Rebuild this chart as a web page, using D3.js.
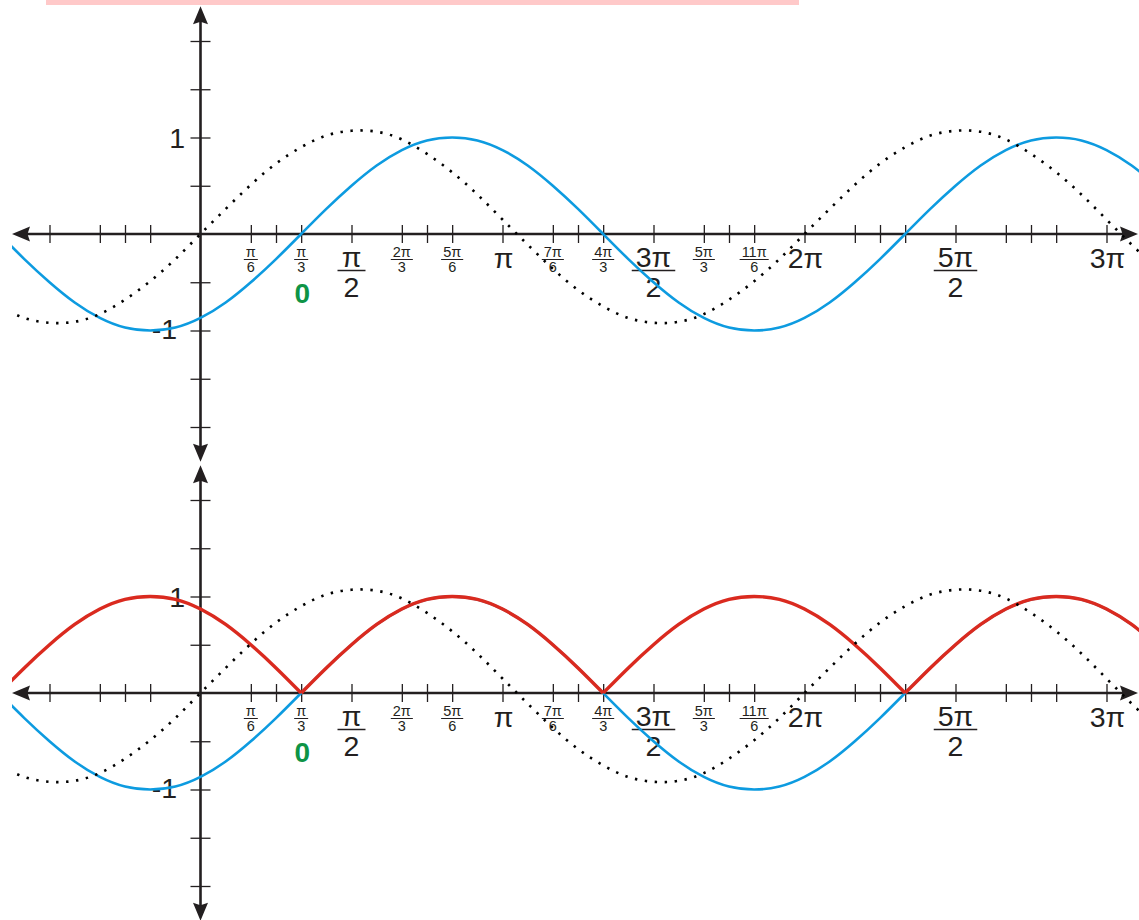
<!DOCTYPE html>
<html>
<head>
<meta charset="utf-8">
<script src="https://cdn.jsdelivr.net/npm/d3@7"></script>
<style>
  body { margin: 0; background: #fff; }
  svg { display: block; font-family: "Liberation Sans", Arial, sans-serif; }
</style>
</head>
<body>
<script>
// x positions are counted in twelfths of pi
const sampleTwelfths = d3.range(-8, 39);

// blue curve, read every pi/12 (crosses zero going up at pi/3)
const blueValues = [
  0, -0.26, -0.5, -0.71, -0.87, -0.97, -1, -0.97, -0.87, -0.71, -0.5, -0.26,
  0, 0.26, 0.5, 0.71, 0.87, 0.97, 1, 0.97, 0.87, 0.71, 0.5, 0.26,
  0, -0.26, -0.5, -0.71, -0.87, -0.97, -1, -0.97, -0.87, -0.71, -0.5, -0.26,
  0, 0.26, 0.5, 0.71, 0.87, 0.97, 1, 0.97, 0.87, 0.71, 0.5
];

// dotted reference curve, read every pi/12
const dottedValues = [
  -0.75, -0.87, -0.92, -0.91, -0.83, -0.68, -0.49, -0.26, 0.0, 0.26, 0.51, 0.73,
  0.90, 1.02, 1.07, 1.06, 0.98, 0.83, 0.64, 0.41, 0.15, -0.11, -0.36, -0.58,
  -0.75, -0.87, -0.92, -0.91, -0.83, -0.68, -0.49, -0.26, 0.0, 0.26, 0.51, 0.73,
  0.90, 1.02, 1.07, 1.06, 0.98, 0.83, 0.64, 0.41, 0.15, -0.11, -0.36
];

// red curve (lower panel only), read every pi/12
const redValues = [
  0, 0.26, 0.5, 0.71, 0.87, 0.97, 1, 0.97, 0.87, 0.71, 0.5, 0.26,
  0, 0.26, 0.5, 0.71, 0.87, 0.97, 1, 0.97, 0.87, 0.71, 0.5, 0.26,
  0, 0.26, 0.5, 0.71, 0.87, 0.97, 1, 0.97, 0.87, 0.71, 0.5, 0.26,
  0, 0.26, 0.5, 0.71, 0.87, 0.97, 1, 0.97, 0.87, 0.71, 0.5
];

// tick marks on the x axis (twelfths of pi) and y axis
const xTicks = [-6, -4, -3, -2, 2, 3, 4, 6, 8, 9, 10, 12, 14, 15, 16, 18, 20, 21, 22, 24, 26, 27, 28, 30, 32, 33, 34, 36];
const yTicks = [-2, -1.5, -1, -0.5, 0.5, 1, 1.5, 2];

// small fraction labels
const smallAt = [2, 4, 8, 10, 14, 16, 20, 22];
const smallNum = ["π", "π", "2π", "5π", "7π", "4π", "5π", "11π"];
const smallDen = ["6", "3", "3", "6", "6", "3", "3", "6"];

// big fraction labels
const bigAt = [6, 18, 30];
const bigNum = ["π", "3π", "5π"];
const bigDen = ["2", "2", "2"];

// big plain labels
const plainAt = [12, 24, 36];
const plainText = ["π", "2π", "3π"];

// y labels
const yLabelAt = [1, -1];
const yLabelText = ["1", "-1"];

// green marker under pi/3
const zeroMarkAt = 4;

const W = 1139, H = 920;
const axisColor = "#231f20";
const blue = "#0d9be0", red = "#da2a1f", green = "#0e9446";

const svg = d3.select("body").append("svg")
    .attr("width", W)
    .attr("height", H);

svg.append("rect").attr("width", W).attr("height", H).attr("fill", "#fff");

// pink strip at the top
svg.append("rect")
    .attr("x", 46).attr("y", 0)
    .attr("width", 753).attr("height", 5)
    .attr("fill", "#ffc9c9");

const x = d3.scaleLinear().domain([0, 36]).range([200.5, 1106.5]);

svg.append("defs").append("clipPath").attr("id", "plotclip")
  .append("rect").attr("x", 12).attr("y", 0).attr("width", W - 12).attr("height", H);

function arrow(g, tx, ty, angle) {
    // arrow head pointing up before rotation
    g.append("path")
        .attr("d", "M0,0 L-7.5,18 L0,15.5 L7.5,18 Z")
        .attr("fill", axisColor)
        .attr("transform", `translate(${tx},${ty}) rotate(${angle})`);
}

function fraction(g, cx, num, den, size, numBase, barY, denBase, pad, minBar, barW) {
    let n = g.append("text").attr("x", cx).attr("y", numBase)
        .attr("text-anchor", "middle").attr("font-size", size).attr("fill", axisColor).text(num);
    let d = g.append("text").attr("x", cx).attr("y", denBase)
        .attr("text-anchor", "middle").attr("font-size", size).attr("fill", axisColor).text(den);
    let w = Math.max(n.node().getComputedTextLength(), d.node().getComputedTextLength()) + pad;
    w = Math.max(w, minBar);
    g.append("line")
        .attr("x1", cx - w / 2).attr("x2", cx + w / 2)
        .attr("y1", barY).attr("y2", barY)
        .attr("stroke", axisColor).attr("stroke-width", barW);
}

function drawPanel(axisY, withRed) {
    const y = d3.scaleLinear().domain([-1, 1]).range([axisY + 96.5, axisY - 96.5]);
    const g = svg.append("g");

    // x axis line + arrows
    g.append("line")
        .attr("x1", 26).attr("x2", 1124)
        .attr("y1", axisY).attr("y2", axisY)
        .attr("stroke", axisColor).attr("stroke-width", 2.6);
    arrow(g, 12, axisY, -90);
    arrow(g, 1138, axisY, 90);

    // y axis line + arrows
    const yTop = y(2.36), yBot = y(-2.36);
    g.append("line")
        .attr("x1", x(0)).attr("x2", x(0))
        .attr("y1", yTop + 14).attr("y2", yBot - 14)
        .attr("stroke", axisColor).attr("stroke-width", 2.6);
    arrow(g, x(0), yTop, 0);
    arrow(g, x(0), yBot, 180);

    // ticks through d3 axes
    const xa = g.append("g")
        .attr("transform", `translate(0,${axisY - 9})`)
        .call(d3.axisBottom(x).tickValues(xTicks).tickSize(18).tickFormat(""));
    xa.select(".domain").remove();
    xa.selectAll(".tick line").attr("stroke", axisColor).attr("stroke-width", 1.3);

    const ya = g.append("g")
        .attr("transform", `translate(${x(0) + 10},0)`)
        .call(d3.axisLeft(y).tickValues(yTicks).tickSize(20).tickFormat(""));
    ya.select(".domain").remove();
    ya.selectAll(".tick line").attr("stroke", axisColor).attr("stroke-width", 1.3);

    // labels
    smallAt.forEach((k, i) => {
        fraction(g, x(k), smallNum[i], smallDen[i], 14.5, axisY + 23, axisY + 25.5, axisY + 38, 4, 12, 1);
    });
    bigAt.forEach((k, i) => {
        fraction(g, x(k), bigNum[i], bigDen[i], 28.5, axisY + 33, axisY + 36.5, axisY + 63, 8, 28, 1.5);
    });
    plainAt.forEach((k, i) => {
        g.append("text").attr("x", x(k) + 1).attr("y", axisY + 34)
            .attr("text-anchor", "middle").attr("font-size", 28.5).attr("fill", axisColor)
            .text(plainText[i]);
    });
    yLabelAt.forEach((v, i) => {
        g.append("text")
            .attr("x", v > 0 ? 185 : 177)
            .attr("y", y(v) + (v > 0 ? 10 : 8))
            .attr("text-anchor", "end").attr("font-size", 28.5).attr("fill", axisColor)
            .text(yLabelText[i]);
    });
    g.append("text").attr("x", x(zeroMarkAt) + 1).attr("y", axisY + 69)
        .attr("text-anchor", "middle").attr("font-size", 28).attr("font-weight", "bold")
        .attr("fill", green).text("0");

    // curves
    const curves = g.append("g").attr("clip-path", "url(#plotclip)");
    const line = d3.line()
        .x(d => x(d[0]))
        .y(d => y(d[1]))
        .curve(d3.curveNatural);

    curves.append("path")
        .attr("d", line(sampleTwelfths.map((k, i) => [k, blueValues[i]])))
        .attr("fill", "none").attr("stroke", blue).attr("stroke-width", 2.6);

    if (withRed) {
        // split the red curve into arches at its zero points
        let arches = [], cur = [];
        sampleTwelfths.forEach((k, i) => {
            cur.push([k, redValues[i]]);
            if (redValues[i] === 0 && cur.length > 1) {
                arches.push(cur);
                cur = [[k, 0]];
            }
        });
        if (cur.length > 1) arches.push(cur);
        curves.selectAll(".arch")
            .data(arches)
            .enter().append("path")
            .attr("class", "arch")
            .attr("d", line)
            .attr("fill", "none").attr("stroke", red)
            .attr("stroke-width", 3.4).attr("stroke-linejoin", "miter");
    }

    curves.append("path")
        .attr("d", line(sampleTwelfths.map((k, i) => [k, dottedValues[i]])))
        .attr("fill", "none").attr("stroke", "#000")
        .attr("stroke-width", 2.6).attr("stroke-dasharray", "2.4 7.6");
}

drawPanel(234, false);
drawPanel(693, true);
</script>
</body>
</html>
